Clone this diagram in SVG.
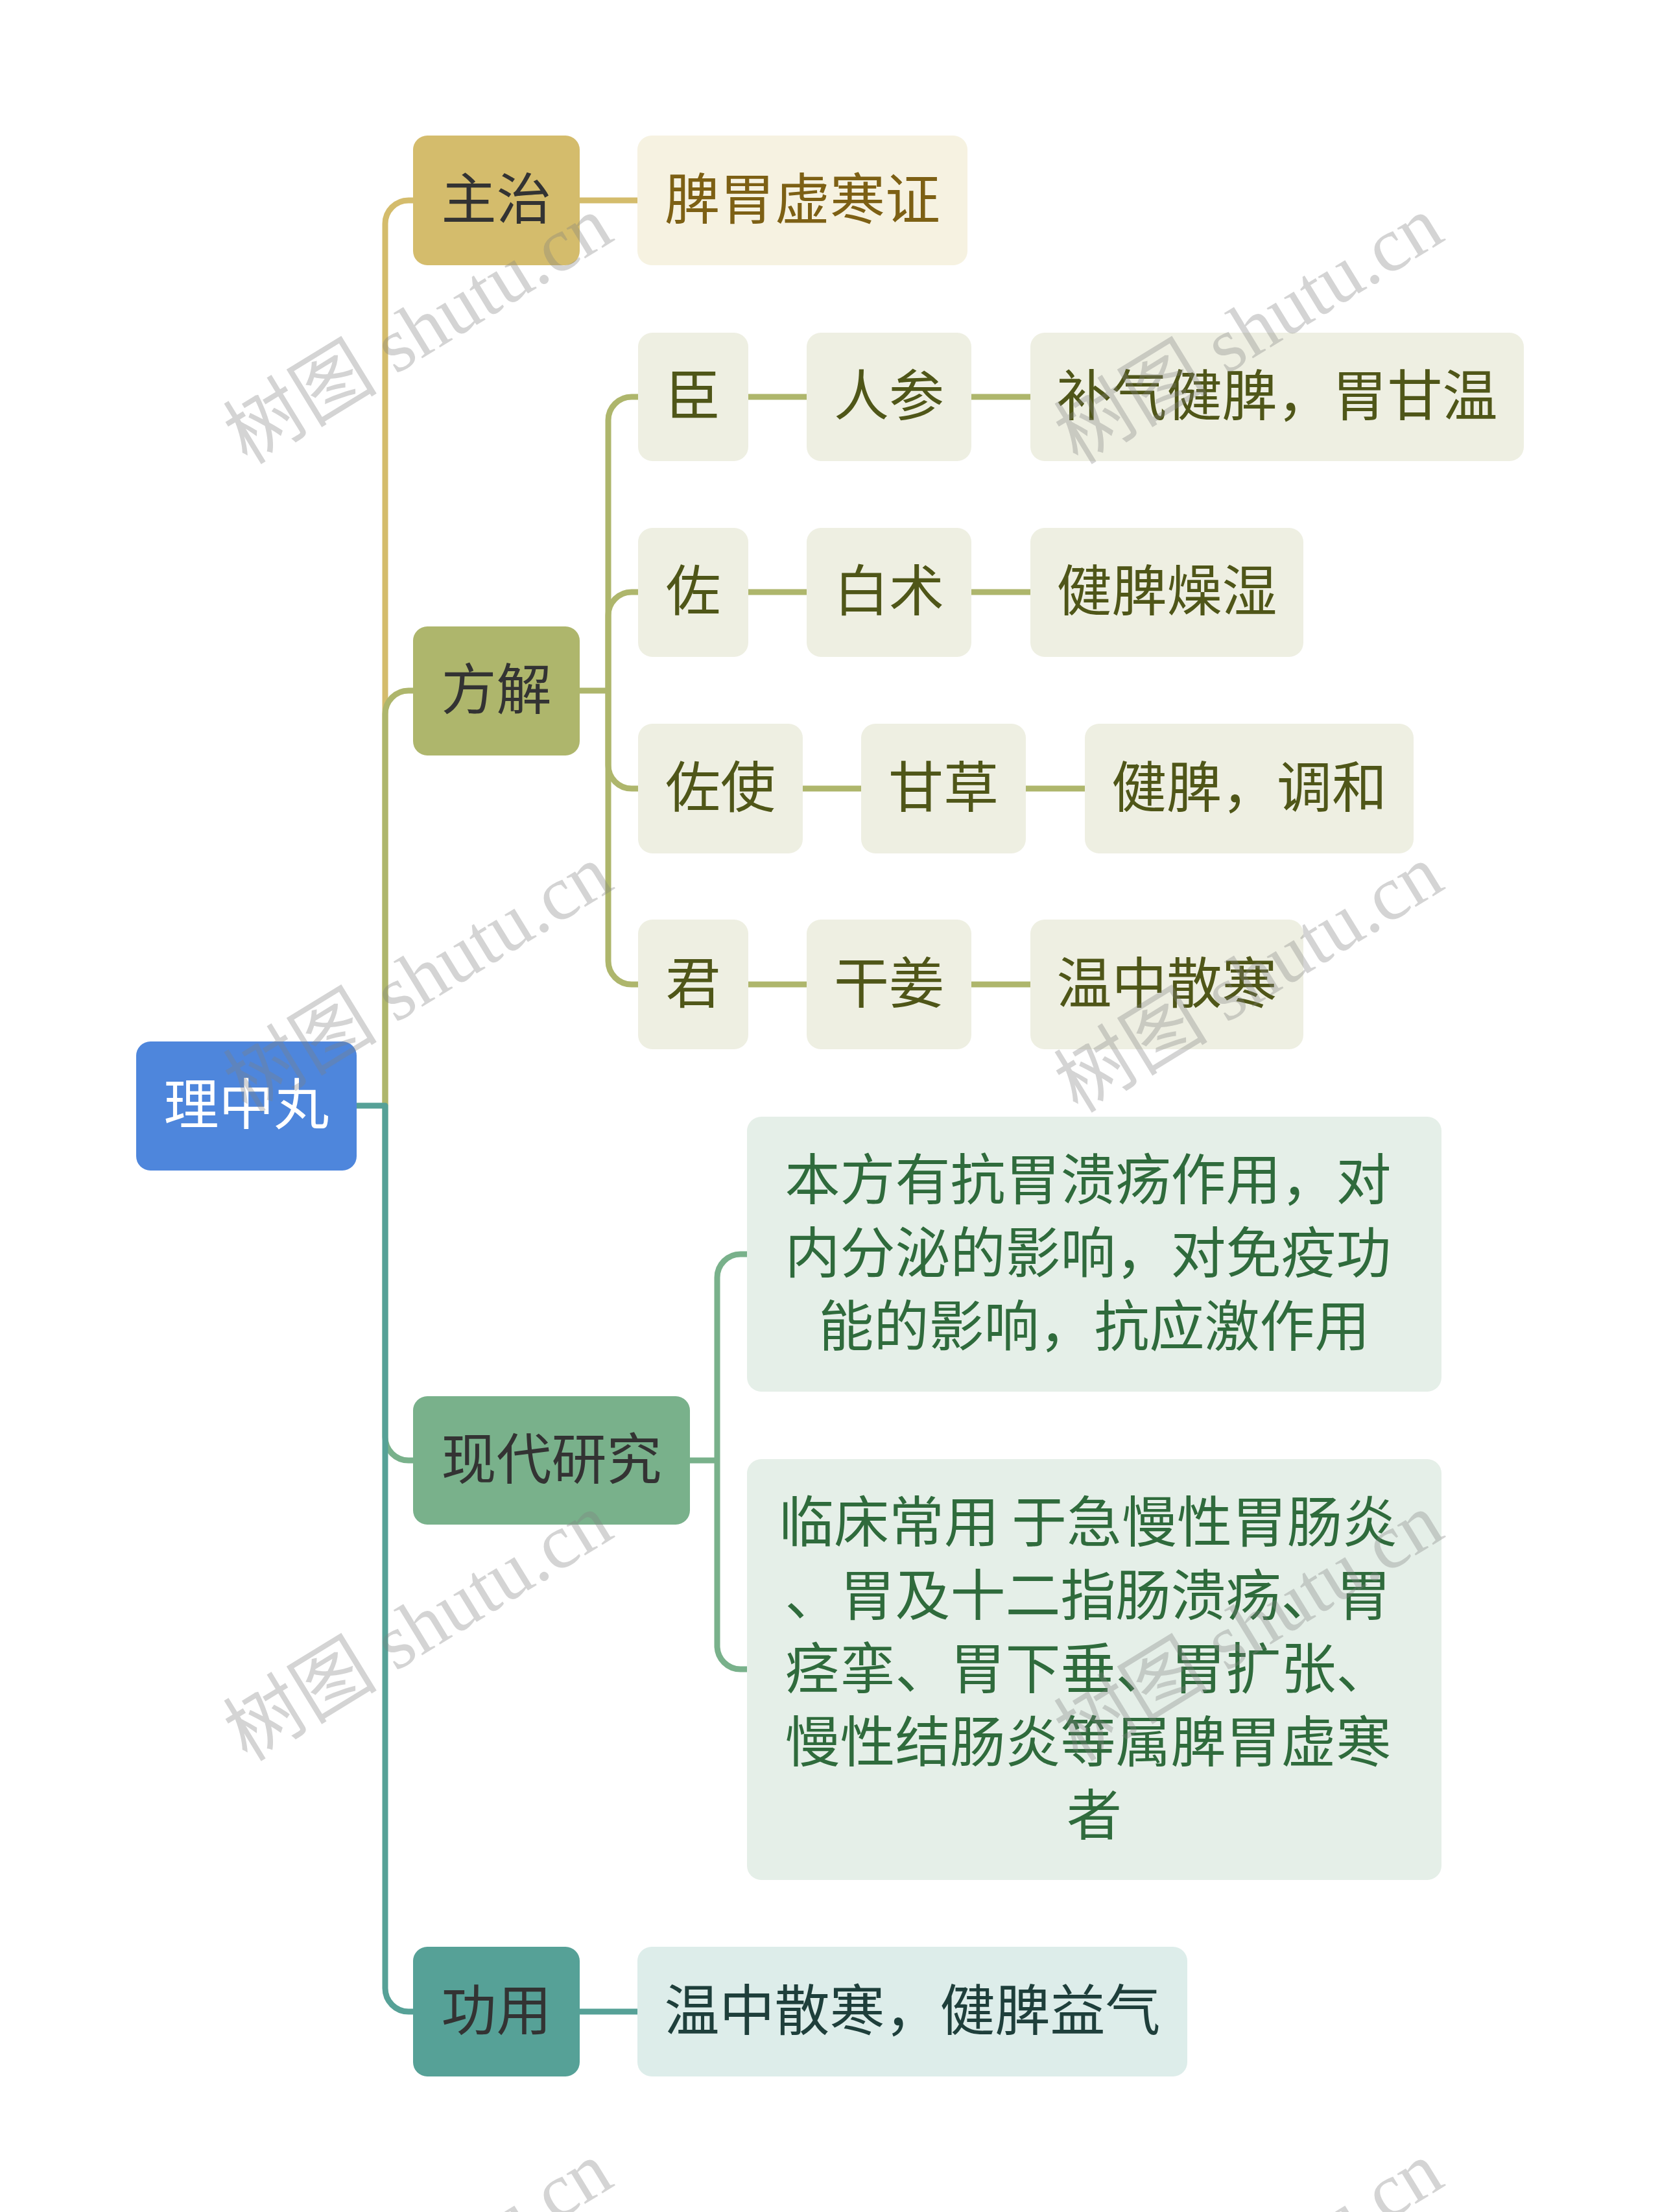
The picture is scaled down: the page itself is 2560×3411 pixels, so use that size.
<svg xmlns="http://www.w3.org/2000/svg" width="2560" height="3411" viewBox="0 0 2560 3411">
<style>
  text { font-family: "Noto Sans CJK SC", "Noto Sans", sans-serif; font-size: 85px; text-anchor: middle; }
  .lk { fill: none; stroke-linecap: butt; stroke-linejoin: round; }
  .gold { stroke: #d4bc6c; stroke-width: 9; }
  .olive { stroke: #aeb66c; stroke-width: 9; }
  .green { stroke: #79b18b; stroke-width: 9; }
  .teal { stroke: #56a197; stroke-width: 9; }
  .t1 { fill: #333333; }
  .tw { fill: #ffffff; }
  .tgold { fill: #7d6014; }
  .tolive { fill: #4f5618; }
  .tgreen { fill: #2f6b3c; }
  .tteal { fill: #1e3f3b; }
  .wm { font-family: "Liberation Serif", "Noto Sans CJK SC", serif; font-size: 119px; fill: #808080; opacity: 0.33; }
</style>
<rect width="2560" height="3411" fill="#ffffff"/>

<g id="connectors">
  <path class="lk gold" d="M594 1705 V345 A36 36 0 0 1 630 309 H640"/>
  <path class="lk olive" d="M594 1705 V1101 A36 36 0 0 1 630 1065 H640"/>
  <path class="lk green" d="M594 1705 V2216 A36 36 0 0 0 630 2252 H640"/>
  <path class="lk teal" d="M548 1705 H594 V3066 A36 36 0 0 0 630 3102 H640"/>
  <path class="lk gold" d="M890 309 H986"/>
  <path class="lk olive" d="M890 1065 H938"/>
  <path class="lk olive" d="M938 1065 V648 A36 36 0 0 1 974 612 H987"/>
  <path class="lk olive" d="M938 1065 V949 A36 36 0 0 1 974 913 H987"/>
  <path class="lk olive" d="M938 1065 V1180 A36 36 0 0 0 974 1216 H987"/>
  <path class="lk olive" d="M938 1065 V1482 A36 36 0 0 0 974 1518 H987"/>
  <path class="lk olive" d="M1150 612 H1247 M1494 612 H1592"/>
  <path class="lk olive" d="M1150 913 H1247 M1494 913 H1592"/>
  <path class="lk olive" d="M1234 1216 H1331 M1578 1216 H1676"/>
  <path class="lk olive" d="M1150 1518 H1247 M1494 1518 H1592"/>
  <path class="lk green" d="M1060 2252 H1106"/>
  <path class="lk green" d="M1106 2252 V1970 A36 36 0 0 1 1142 1934 H1155"/>
  <path class="lk green" d="M1106 2252 V2538 A36 36 0 0 0 1142 2574 H1155"/>
  <path class="lk teal" d="M890 3102 H986"/>
</g>

<g id="root">
  <rect x="210" y="1606" width="340" height="199" rx="22" fill="#4e86dc"/>
  <text class="tw" x="380" y="1734">理中丸</text>
</g>

<g id="zhuzhi">
  <rect x="637" y="209" width="257" height="200" rx="22" fill="#d4bc6c"/>
  <text class="t1" x="765.5" y="338">主治</text>
</g>
<g id="zhuzhi-1">
  <rect x="983" y="209" width="509" height="200" rx="22" fill="#f6f2e1"/>
  <text class="tgold" x="1237.5" y="338">脾胃虚寒证</text>
</g>

<g id="fangjie">
  <rect x="637" y="966" width="257" height="199" rx="22" fill="#aeb66c"/>
  <text class="t1" x="765.5" y="1094">方解</text>
</g>
<g id="chen">
  <rect x="984" y="513" width="170" height="198" rx="22" fill="#eeefe2"/>
  <text class="tolive" x="1069" y="641">臣</text>
</g>
<g id="renshen">
  <rect x="1244" y="513" width="254" height="198" rx="22" fill="#eeefe2"/>
  <text class="tolive" x="1371" y="641">人参</text>
</g>
<g id="renshen-1">
  <rect x="1589" y="513" width="761" height="198" rx="22" fill="#eeefe2"/>
  <text class="tolive" x="1969.5" y="641">补气健脾，胃甘温</text>
</g>
<g id="zuo">
  <rect x="984" y="814" width="170" height="199" rx="22" fill="#eeefe2"/>
  <text class="tolive" x="1069" y="942">佐</text>
</g>
<g id="baizhu">
  <rect x="1244" y="814" width="254" height="199" rx="22" fill="#eeefe2"/>
  <text class="tolive" x="1371" y="942">白术</text>
</g>
<g id="baizhu-1">
  <rect x="1589" y="814" width="421" height="199" rx="22" fill="#eeefe2"/>
  <text class="tolive" x="1799.5" y="942">健脾燥湿</text>
</g>
<g id="zuoshi">
  <rect x="984" y="1116" width="254" height="200" rx="22" fill="#eeefe2"/>
  <text class="tolive" x="1111" y="1245">佐使</text>
</g>
<g id="gancao">
  <rect x="1328" y="1116" width="254" height="200" rx="22" fill="#eeefe2"/>
  <text class="tolive" x="1455" y="1245">甘草</text>
</g>
<g id="gancao-1">
  <rect x="1673" y="1116" width="507" height="200" rx="22" fill="#eeefe2"/>
  <text class="tolive" x="1926.5" y="1245">健脾，调和</text>
</g>
<g id="jun">
  <rect x="984" y="1418" width="170" height="200" rx="22" fill="#eeefe2"/>
  <text class="tolive" x="1069" y="1547">君</text>
</g>
<g id="ganjiang">
  <rect x="1244" y="1418" width="254" height="200" rx="22" fill="#eeefe2"/>
  <text class="tolive" x="1371" y="1547">干姜</text>
</g>
<g id="ganjiang-1">
  <rect x="1589" y="1418" width="421" height="200" rx="22" fill="#eeefe2"/>
  <text class="tolive" x="1799.5" y="1547">温中散寒</text>
</g>

<g id="xiandai">
  <rect x="637" y="2153" width="427" height="198" rx="22" fill="#79b18b"/>
  <text class="t1" x="850.5" y="2281">现代研究</text>
</g>
<g id="xiandai-1">
  <rect x="1152" y="1722" width="1071" height="424" rx="22" fill="#e5efe8"/>
  <text class="tgreen" x="1687.5">
    <tspan x="1687.5" y="1850">本方有抗胃溃疡作用，对</tspan>
    <tspan x="1687.5" y="1963">内分泌的影响，对免疫功</tspan>
    <tspan x="1687.5" y="2076">能的影响，抗应激作用</tspan>
  </text>
</g>
<g id="xiandai-2">
  <rect x="1152" y="2250" width="1071" height="649" rx="22" fill="#e5efe8"/>
  <text class="tgreen" x="1687.5">
    <tspan x="1687.5" y="2378">临床常用 于急慢性胃肠炎</tspan>
    <tspan x="1687.5" y="2491">、胃及十二指肠溃疡、胃</tspan>
    <tspan x="1687.5" y="2604">痉挛、胃下垂、胃扩张、</tspan>
    <tspan x="1687.5" y="2717">慢性结肠炎等属脾胃虚寒</tspan>
    <tspan x="1687.5" y="2830">者</tspan>
  </text>
</g>

<g id="gongyong">
  <rect x="637" y="3002" width="257" height="200" rx="22" fill="#56a197"/>
  <text class="t1" x="765.5" y="3131">功用</text>
</g>
<g id="gongyong-1">
  <rect x="983" y="3002" width="848" height="200" rx="22" fill="#ddedea"/>
  <text class="tteal" x="1407" y="3131">温中散寒，健脾益气</text>
</g>

<g id="watermarks">
  <text class="wm" transform="translate(646 511) rotate(-31.5)" y="38">树图 shutu.cn</text>
  <text class="wm" transform="translate(1927 511) rotate(-31.5)" y="38">树图 shutu.cn</text>
  <text class="wm" transform="translate(646 1511) rotate(-31.5)" y="38">树图 shutu.cn</text>
  <text class="wm" transform="translate(1927 1511) rotate(-31.5)" y="38">树图 shutu.cn</text>
  <text class="wm" transform="translate(646 2511) rotate(-31.5)" y="38">树图 shutu.cn</text>
  <text class="wm" transform="translate(1927 2511) rotate(-31.5)" y="38">树图 shutu.cn</text>
  <text class="wm" transform="translate(646 3511) rotate(-31.5)" y="38">树图 shutu.cn</text>
  <text class="wm" transform="translate(1927 3511) rotate(-31.5)" y="38">树图 shutu.cn</text>
</g>
</svg>
